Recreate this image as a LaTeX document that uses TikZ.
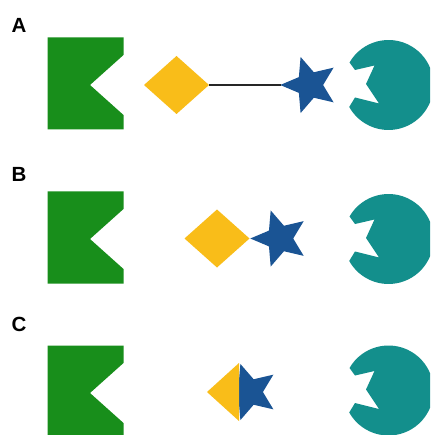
\documentclass[tikz,border=0pt]{standalone}
\usepackage{fontspec}
\setmainfont{Liberation Sans}
\definecolor{kgreen}{RGB}{24,142,27}
\definecolor{gemyellow}{RGB}{249,189,25}
\definecolor{starblue}{RGB}{26,84,148}
\definecolor{pacteal}{RGB}{19,143,140}
\tikzset{
  panellabel/.style={anchor=base west, inner sep=0pt,
    font=\fontsize{20.5}{20.5}\selectfont\bfseries},
  tether/.style={draw=black!85, line width=1.4pt},
  % notched block, placed at (0, row centre)
  pics/kblock/.style={code={
    \fill[kgreen] (47.5,-47.5) -- (123.5,-47.5) -- (123.5,-30) -- (90,0)
      -- (123.5,30) -- (123.5,44.5) -- (47.5,44.5) -- cycle;}},
  % rhombus, placed at its centre
  pics/gem/.style={code={
    \fill[gemyellow] (-32.5,0) -- (0,-29) -- (32.5,0) -- (0,29) -- cycle;}},
  % five-pointed star with one point facing left
  pics/bstar/.style={code={
    \fill[starblue] (180:29.5) -- (144:13.4) -- (108:29.5) -- (72:13.4)
      -- (36:29.5) -- (0:13.4) -- (-36:29.5) -- (-72:13.4)
      -- (-108:29.5) -- (-144:13.4) -- cycle;}},
  % disc with a star-shaped bite on its left side
  pics/pacman/.style={code={
    \fill[pacteal] (-150:45) arc[start angle=-150, end angle=150.8, radius=45]
      -- (-33.5,12.5) -- (-9.5,18.5) -- (-22.5,-1) -- (-14,-19.5)
      -- (-33.5,-15) -- cycle;}}
}
\begin{document}
\begin{tikzpicture}[x=1pt, y=-1pt]
  \clip (0,0) rectangle (430,435);
  \fill[white] (0,0) rectangle (430,435);

  % row A: rhombus tethered to the star
  \node[panellabel] (labA) at (11.5,33) {A};
  \pic at (0,85) {kblock};
  \pic at (176.5,85) {gem};
  \pic at (309.7,85) {bstar};
  \pic at (388.5,85) {pacman};
  \coordinate (gemA-east) at (209,85);
  \coordinate (starA-west) at (280.5,85);
  \draw[tether] (gemA-east) -- (starA-west);

  % row B: rhombus and star touching
  \node[panellabel] (labB) at (11.5,182) {B};
  \pic at (0,239) {kblock};
  \pic at (217,238.5) {gem};
  \pic at (279.8,238.5) {bstar};
  \pic at (388.5,239) {pacman};

  % row C: half rhombus fused with the star
  \node[panellabel] (labC) at (11.5,331) {C};
  \pic at (0,393) {kblock};
  \begin{scope}
    \clip (239,350) rectangle (300,440);
    \pic at (249.5,392) {bstar};
  \end{scope}
  \fill[gemyellow] (207,392) -- (239,363) -- (239,421) -- cycle;
  \pic at (388.5,390.5) {pacman};
\end{tikzpicture}
\end{document}
